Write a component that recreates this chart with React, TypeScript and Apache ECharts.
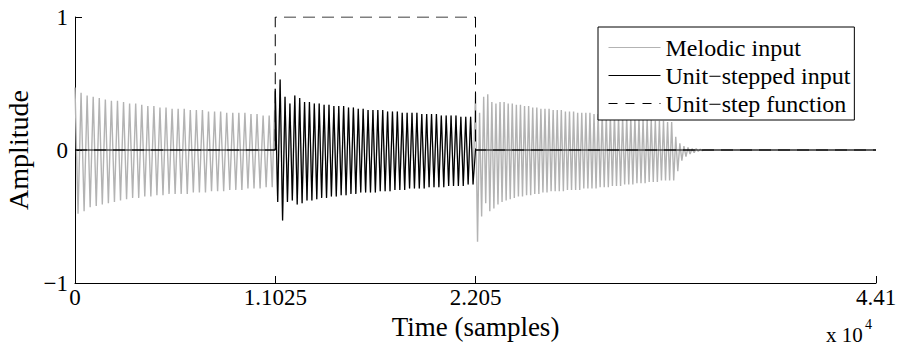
import React, { useEffect, useRef } from "react";
import * as echarts from "echarts";

// Sample axis
const totalSamples = 44100;
const noteLength = 11025;
const noteStarts = [0, 11025, 22050];
const stepOn = 11025;
const stepOff = 22050;

// Peak amplitudes of each visible cycle, per note (upper / lower peaks)
const note1Top = [
  0.47, 0.43, 0.41, 0.4, 0.39, 0.38, 0.37, 0.37, 0.36, 0.35, 0.35, 0.34, 0.33, 0.33, 0.32, 0.32, 0.31,
  0.31, 0.31, 0.3, 0.3, 0.3, 0.29, 0.29, 0.29, 0.28, 0.28, 0.28, 0.28, 0.27, 0.27, 0.26, 0.26,
];
const note1Bottom = [
  -0.48, -0.46, -0.43, -0.42, -0.41, -0.4, -0.39, -0.38, -0.37, -0.36, -0.36, -0.35, -0.35, -0.34, -0.34,
  -0.33, -0.33, -0.33, -0.33, -0.32, -0.32, -0.32, -0.31, -0.31, -0.31, -0.3, -0.3, -0.3, -0.29, -0.29,
  -0.29, -0.28, -0.28,
];
const note2Top = [
  0.46, 0.53, 0.4, 0.35, 0.41, 0.39, 0.36, 0.36, 0.35, 0.35, 0.34, 0.34, 0.33, 0.33, 0.33, 0.32, 0.32,
  0.31, 0.31, 0.3, 0.3, 0.3, 0.3, 0.29, 0.29, 0.29, 0.28, 0.28, 0.28, 0.28, 0.27, 0.27, 0.27, 0.27, 0.26,
  0.26, 0.26, 0.26, 0.25, 0.25, 0.25,
];
const note2Bottom = [
  -0.39, -0.53, -0.39, -0.38, -0.41, -0.4, -0.38, -0.38, -0.37, -0.36, -0.36, -0.35, -0.35, -0.34, -0.34,
  -0.33, -0.33, -0.32, -0.32, -0.32, -0.32, -0.31, -0.31, -0.31, -0.3, -0.3, -0.3, -0.29, -0.29, -0.29,
  -0.29, -0.28, -0.28, -0.28, -0.28, -0.27, -0.27, -0.27, -0.27, -0.26, -0.26,
];
const note3Top = [
  0.43, 0.28, 0.4, 0.42, 0.36, 0.35, 0.36, 0.36, 0.35, 0.35, 0.34, 0.34, 0.33, 0.33, 0.32, 0.32, 0.31,
  0.31, 0.31, 0.3, 0.3, 0.3, 0.29, 0.29, 0.29, 0.28, 0.28, 0.28, 0.28, 0.27, 0.27, 0.27, 0.26, 0.26, 0.26,
  0.25, 0.25, 0.25, 0.24, 0.24, 0.24, 0.23, 0.23, 0.23, 0.22, 0.22, 0.22, 0.21, 0.21,
];
const note3Bottom = [
  -0.69, -0.5, -0.4, -0.46, -0.44, -0.41, -0.39, -0.38, -0.37, -0.36, -0.35, -0.35, -0.34, -0.34, -0.33,
  -0.33, -0.32, -0.32, -0.31, -0.31, -0.31, -0.31, -0.3, -0.3, -0.3, -0.3, -0.29, -0.29, -0.29, -0.29,
  -0.28, -0.28, -0.28, -0.27, -0.27, -0.27, -0.26, -0.26, -0.26, -0.25, -0.25, -0.25, -0.24, -0.24, -0.24,
  -0.23, -0.23, -0.23, -0.23,
];
// Release tail after the last note
const releaseTop = [0.1, 0.05, 0.03, 0.02, 0.01, 0.01, 0.005];
const releaseBottom = [-0.16, -0.08, -0.05, -0.03, -0.02, -0.01, -0.005];

// Axis ticks
const xTickValues = [0, 11025, 22050, 44100];
const xTickLabels = ["0", "1.1025", "2.205", "4.41"];
const yTickValues = [-1, 0, 1];
const yTickLabels = ["\u22121", "0", "1"];

const seriesNames = ["Melodic input", "Unit\u2212stepped input", "Unit\u2212step function"];

const FONT = "Liberation Serif";

type Pt = [number, number];

// Alternate upper and lower peaks, one pair per cycle
function zigzag(start: number, period: number, tops: number[], bottoms: number[]): Pt[] {
  const pts: Pt[] = [];
  for (let k = 0; k < tops.length; k++) {
    pts.push([start + k * period, tops[k]]);
    pts.push([start + k * period + period / 2, bottoms[k]]);
  }
  return pts;
}

function buildSeriesData() {
  const p1 = noteLength / note1Top.length;
  const p2 = noteLength / note2Top.length;
  const p3 = noteLength / note3Top.length;
  const n1 = zigzag(noteStarts[0], p1, note1Top, note1Bottom);
  const n2 = zigzag(noteStarts[1], p2, note2Top, note2Bottom);
  const n3 = zigzag(noteStarts[2], p3, note3Top, note3Bottom);
  const releaseStart = noteStarts[2] + noteLength;
  const rel = zigzag(releaseStart, p3, releaseTop, releaseBottom);
  const releaseEnd = releaseStart + releaseTop.length * p3;

  const melodic: Pt[] = [...n1, ...n2, ...n3, ...rel, [releaseEnd, 0], [totalSamples, 0]];
  const stepped: Pt[] = [[0, 0], [stepOn, 0], ...n2, [stepOff, 0], [totalSamples, 0]];
  const step: Pt[] = [
    [0, 0],
    [stepOn, 0],
    [stepOn, 1],
    [stepOff, 1],
    [stepOff, 0],
    [totalSamples, 0],
  ];
  return { melodic, stepped, step };
}

export default function App() {
  const ref = useRef<HTMLDivElement>(null);

  useEffect(() => {
    if (!ref.current) return;
    const chart = echarts.init(ref.current, undefined, { renderer: "svg" });
    const { melodic, stepped, step } = buildSeriesData();

    chart.setOption({
      animation: false,
      backgroundColor: "#ffffff",
      grid: {
        left: 75,
        right: 22,
        top: 17,
        bottom: 65,
        containLabel: false,
        outerBoundsMode: "none",
      },
      legend: {
        data: [
          { name: seriesNames[0] },
          { name: seriesNames[1] },
          { name: seriesNames[2], lineStyle: { type: [9, 8] } },
        ],
        orient: "vertical",
        left: 598,
        top: 27,
        backgroundColor: "#ffffff",
        borderColor: "#000000",
        borderWidth: 1,
        borderRadius: 0,
        padding: [7.5, 4, 3.5, 10],
        itemGap: 2,
        itemWidth: 52,
        itemHeight: 14,
        selectedMode: false,
        itemStyle: { color: "rgba(0,0,0,0)", borderWidth: 0, opacity: 0 },
        lineStyle: { width: 1 },
        textStyle: { fontFamily: FONT, fontSize: 24, color: "#000", lineHeight: 26 },
      },
      xAxis: {
        type: "value",
        min: 0,
        max: totalSamples,
        name: "Time (samples)",
        nameLocation: "middle",
        nameGap: 22,
        nameTextStyle: { fontFamily: FONT, fontSize: 27, color: "#000" },
        axisLine: { show: true, onZero: false, lineStyle: { color: "#000", width: 1 } },
        axisTick: {
          show: true,
          inside: true,
          length: 7,
          customValues: xTickValues,
          lineStyle: { color: "#000" },
        },
        axisLabel: {
          customValues: xTickValues,
          margin: 3,
          fontFamily: FONT,
          fontSize: 23,
          color: "#000",
          formatter: (v: number) => {
            const i = xTickValues.indexOf(v);
            return i >= 0 ? xTickLabels[i] : "";
          },
        },
        splitLine: { show: false },
      },
      yAxis: {
        type: "value",
        min: -1,
        max: 1,
        interval: 1,
        name: "Amplitude",
        nameLocation: "middle",
        nameGap: 40,
        nameTextStyle: { fontFamily: FONT, fontSize: 28, color: "#000" },
        axisLine: { show: true, onZero: false, lineStyle: { color: "#000", width: 1 } },
        axisTick: { show: true, inside: true, length: 7, lineStyle: { color: "#000" } },
        axisLabel: {
          margin: 7,
          fontFamily: FONT,
          fontSize: 23,
          color: "#000",
          formatter: (v: number) => {
            const i = yTickValues.indexOf(v);
            return i >= 0 ? yTickLabels[i] : "";
          },
        },
        splitLine: { show: false },
      },
      graphic: [
        {
          type: "text",
          left: 826,
          top: 324,
          style: { text: "x 10", fontFamily: FONT, fontSize: 21, fill: "#000" },
        },
        {
          type: "text",
          left: 865,
          top: 317,
          style: { text: "4", fontFamily: FONT, fontSize: 14, fill: "#000" },
        },
      ],
      series: [
        {
          name: seriesNames[0],
          type: "line",
          data: melodic,
          symbol: "none",
          showSymbol: false,
          lineStyle: { color: "#b3b3b3", width: 1.4 },
          itemStyle: { color: "#b3b3b3" },
          z: 1,
        },
        {
          name: seriesNames[1],
          type: "line",
          data: stepped,
          symbol: "none",
          showSymbol: false,
          lineStyle: { color: "#000000", width: 1.2 },
          itemStyle: { color: "#000000" },
          z: 2,
        },
        {
          name: seriesNames[2],
          type: "line",
          data: step,
          symbol: "none",
          showSymbol: false,
          lineStyle: { color: "#000000", width: 1, type: [12, 7] },
          itemStyle: { color: "#000000" },
          z: 3,
        },
      ],
    });

    return () => chart.dispose();
  }, []);

  return (
    <div
      ref={ref}
      style={{ position: "fixed", left: 0, top: 0, width: 898, height: 348, background: "#fff" }}
    />
  );
}
